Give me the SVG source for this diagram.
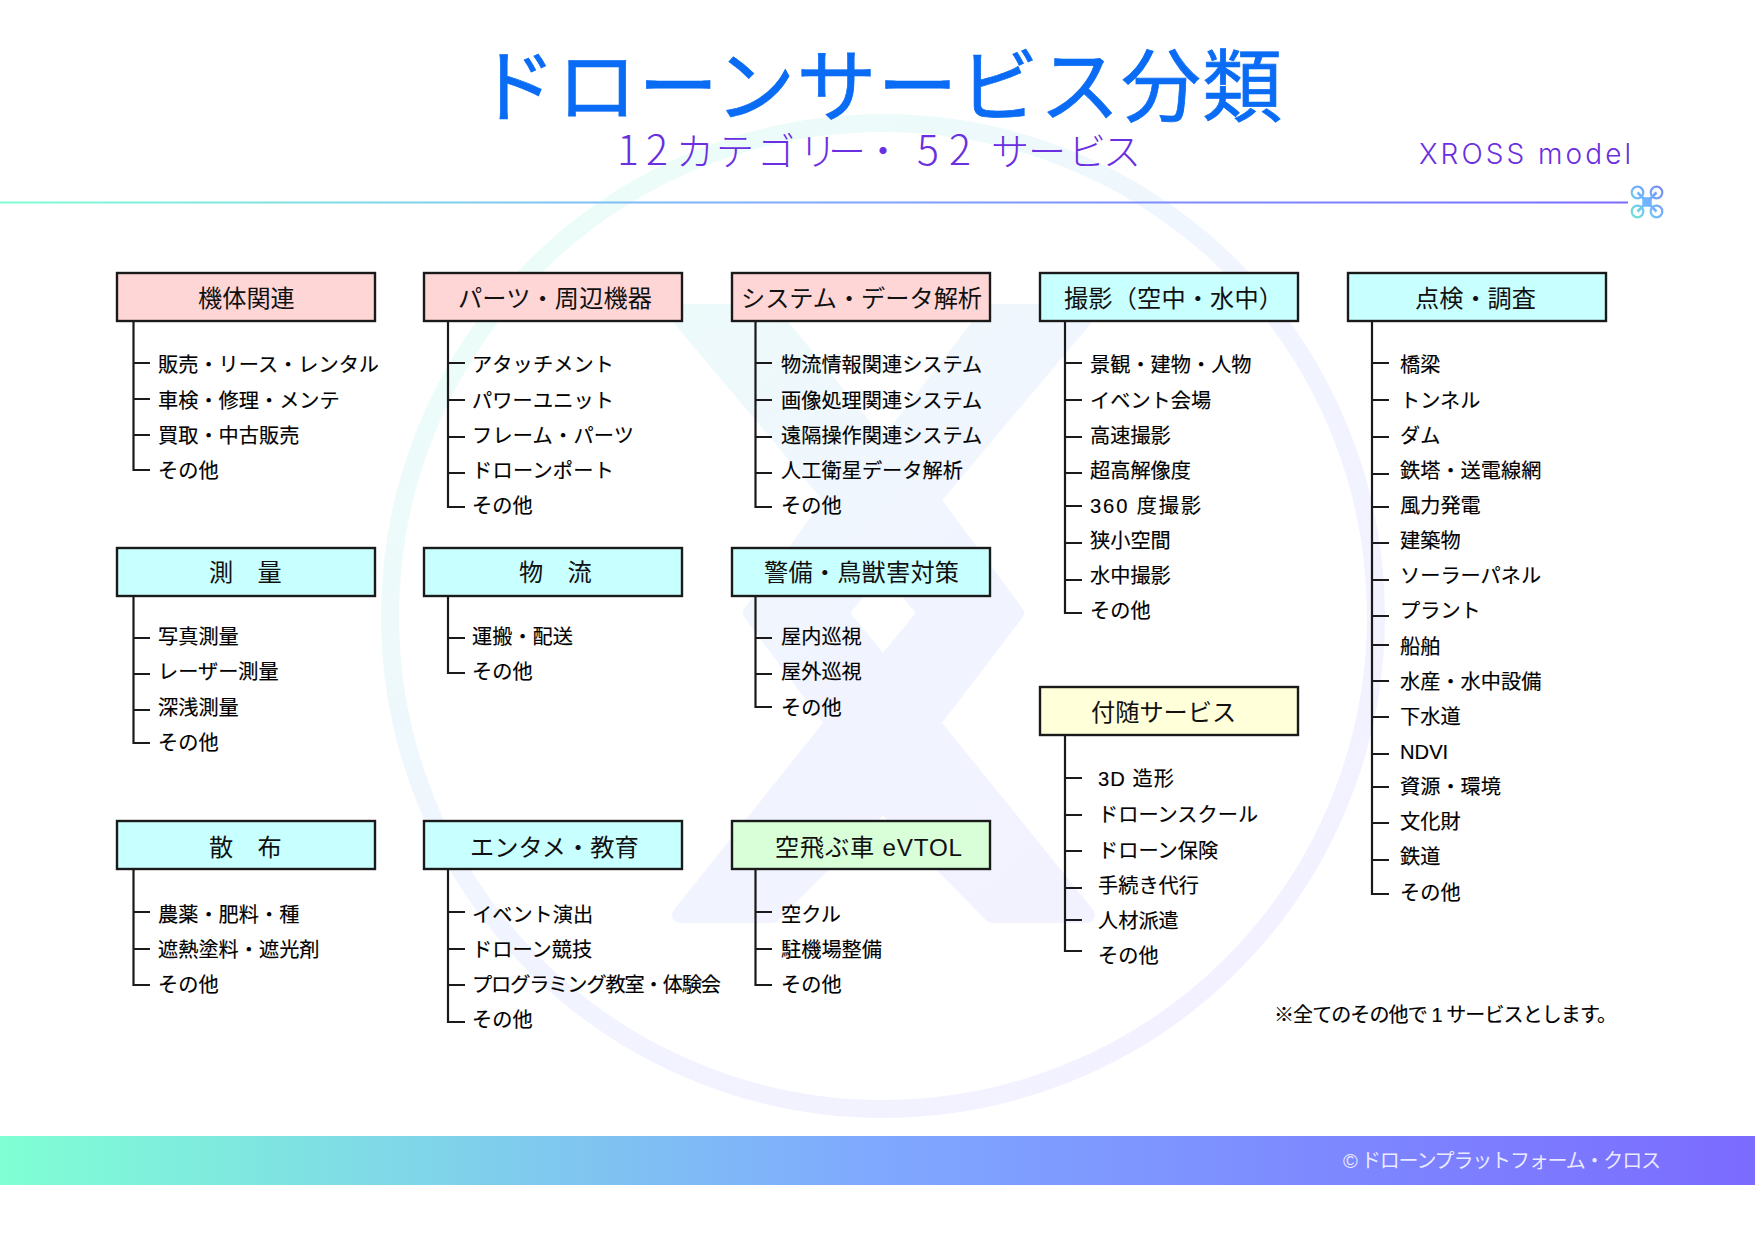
<svg xmlns="http://www.w3.org/2000/svg" width="1755" height="1241" viewBox="0 0 1755 1241">
<style>
text{font-family:"Liberation Sans","Noto Sans CJK JP","Noto Sans",sans-serif;fill:#000}
.h{font-size:24.2px;fill:#111}
.i{font-size:20.2px;stroke:#000;stroke-width:.15}
.box{stroke:#1a1a1a;stroke-width:2.4}
.pink{fill:#ffd6d6}.cyan{fill:#c8ffff}.green{fill:#d9ffd9}.yellow{fill:#ffffd9}
.con{fill:none;stroke:#1a1a1a;stroke-width:2.2}
.d{font-size:41px}
</style>
<defs>
<linearGradient id="wm" gradientUnits="userSpaceOnUse" x1="450" y1="150" x2="1200" y2="1050"><stop offset="0" stop-color="#eafff7"/><stop offset="0.55" stop-color="#f1f4ff"/><stop offset="1" stop-color="#f3f1ff"/></linearGradient>
<linearGradient id="rule" x1="0" x2="1" y1="0" y2="0"><stop offset="0" stop-color="#7fffd4"/><stop offset="0.5" stop-color="#7fa8ff"/><stop offset="1" stop-color="#7b6bff"/></linearGradient>
<linearGradient id="rule2" gradientUnits="userSpaceOnUse" x1="0" x2="1628" y1="0" y2="0"><stop offset="0" stop-color="#7fffd4"/><stop offset="0.5" stop-color="#7fa8ff"/><stop offset="1" stop-color="#7b6bff"/></linearGradient>
<linearGradient id="dr" gradientUnits="userSpaceOnUse" x1="1631" y1="218" x2="1663" y2="186"><stop offset="0" stop-color="#6fe8cf"/><stop offset="0.5" stop-color="#70b4ff"/><stop offset="1" stop-color="#7b8bf0"/></linearGradient>
</defs>
<rect width="1755" height="1241" fill="#fff"/>
<g id="watermark">
<circle cx="883" cy="616" r="493" fill="none" stroke="url(#wm)" stroke-width="18"/>
<path fill="url(#wm)" stroke="url(#wm)" stroke-width="16" stroke-linejoin="round" fill-rule="evenodd" d="M675 312H770L883 450L990 312H1090L932 500L1016 613L932 723L1087 915H992L883 804L772 915H680L833 723L751 613L833 500ZM883 561L840 613L883 665L926 613Z"/>
</g>
<g id="title">
<text x="476" y="115" style="font-size:80px;fill:#0a6cf5;stroke:#0a6cf5;stroke-width:.7" textLength="806">ドローンサービス分類</text>
<text y="165" style="font-size:38px;fill:#6a2fe0;font-weight:300;font-family:'Noto Sans CJK JP',sans-serif"><tspan class="d" x="617 646">12</tspan><tspan x="676 716 757 799 828 864">カテゴリー・</tspan><tspan class="d" x="917 949">52</tspan><tspan x="991 1028 1068 1103">サービス</tspan></text>
<text x="1419" y="164" style="font-size:28px;fill:#6a2fe0;font-weight:300;font-family:Inter,sans-serif" textLength="212">XROSS model</text>
</g>
<rect id="rule-line" x="0" y="201.5" width="1628" height="2" fill="url(#rule2)"/>
<g id="drone" fill="none" stroke="url(#dr)" stroke-width="2.2">
<circle cx="1637.5" cy="192.5" r="5.8"/><circle cx="1656.5" cy="192.5" r="5.8"/><circle cx="1637.5" cy="211.5" r="5.8"/><circle cx="1656.5" cy="211.5" r="5.8"/>
<path stroke-width="2.6" d="M1637.5 192.5L1656.5 211.5M1656.5 192.5L1637.5 211.5"/>
<rect x="1643" y="198" width="8" height="8" rx="1" fill="#70b4ff" stroke-width="1.5"/>
</g>
<g id="connectors" class="con">
<path d="M133.5 321V470H150M133.5 363H150M133.5 399H150M133.5 435H150"/>
<path d="M448 321V507H465M448 363H465M448 400H465M448 437H465M448 473H465"/>
<path d="M755.5 321V507H772M755.5 363H772M755.5 400H772M755.5 437H772M755.5 473H772"/>
<path d="M1065 321V613H1082M1065 363H1082M1065 400H1082M1065 437H1082M1065 473H1082M1065 506H1082M1065 543H1082M1065 580H1082"/>
<path d="M1372 321V894H1389M1372 363H1389M1372 400H1389M1372 437H1389M1372 474H1389M1372 507H1389M1372 543H1389M1372 580H1389M1372 616H1389M1372 645H1389M1372 681H1389M1372 717H1389M1372 754H1389M1372 787H1389M1372 823H1389M1372 860H1389"/>
<path d="M133.5 596V743H150M133.5 638H150M133.5 674H150M133.5 710H150"/>
<path d="M448 596V673H465M448 638H465"/>
<path d="M755.5 596V707H772M755.5 638H772M755.5 674H772"/>
<path d="M133.5 869V985H150M133.5 912H150M133.5 949H150"/>
<path d="M448 869V1022H465M448 912H465M448 949H465M448 985H465"/>
<path d="M755.5 869V985H772M755.5 912H772M755.5 949H772"/>
<path d="M1065 735V951H1082M1065 778H1082M1065 815H1082M1065 851H1082M1065 888H1082M1065 920H1082"/>
</g>
<g id="n-kitai"><rect class="box pink" x="117" y="273" width="258" height="48"/><text class="h" x="198" y="307">機体関連</text>
<text class="i" x="158" y="371.5">販売・リース・レンタル</text><text class="i" x="158" y="407.5">車検・修理・メンテ</text><text class="i" x="158" y="442.5">買取・中古販売</text><text class="i" x="158" y="477.5">その他</text></g>
<g id="n-parts"><rect class="box pink" x="424" y="273" width="258" height="48"/><text class="h" x="458" y="307" textLength="194">パーツ・周辺機器</text>
<text class="i" x="472" y="371.5" textLength="142">アタッチメント</text><text class="i" x="472" y="407.5" textLength="142">パワーユニット</text><text class="i" x="472" y="442.5" textLength="162">フレーム・パーツ</text><text class="i" x="472" y="477.5" textLength="142">ドローンポート</text><text class="i" x="472" y="512.5">その他</text></g>
<g id="n-system"><rect class="box pink" x="732" y="273" width="258" height="48"/><text class="h" x="741" y="307" textLength="241">システム・データ解析</text>
<text class="i" x="781" y="371.5">物流情報関連システム</text><text class="i" x="781" y="407.5">画像処理関連システム</text><text class="i" x="781" y="442.5">遠隔操作関連システム</text><text class="i" x="781" y="477.5" textLength="182">人工衛星データ解析</text><text class="i" x="781" y="512.5">その他</text></g>
<g id="n-satsuei"><rect class="box cyan" x="1040" y="273" width="258" height="48"/><text class="h" x="1064" y="307" textLength="219">撮影（空中・水中）</text>
<text class="i" x="1090" y="371.5">景観・建物・人物</text><text class="i" x="1090" y="407.5">イベント会場</text><text class="i" x="1090" y="442.5">高速撮影</text><text class="i" x="1090" y="477.5">超高解像度</text><text class="i" x="1090" y="512.5" textLength="111">360 度撮影</text><text class="i" x="1090" y="547.5">狭小空間</text><text class="i" x="1090" y="582.5">水中撮影</text><text class="i" x="1090" y="617.5">その他</text></g>
<g id="n-tenken"><rect class="box cyan" x="1348" y="273" width="258" height="48"/><text class="h" x="1415" y="307">点検・調査</text>
<text class="i" x="1400" y="371.5">橋梁</text><text class="i" x="1400" y="407.5">トンネル</text><text class="i" x="1400" y="442.5">ダム</text><text class="i" x="1400" y="477.5">鉄塔・送電線網</text><text class="i" x="1400" y="512.5">風力発電</text><text class="i" x="1400" y="547.5">建築物</text><text class="i" x="1400" y="582.5">ソーラーパネル</text><text class="i" x="1400" y="617.5">プラント</text><text class="i" x="1400" y="654">船舶</text><text class="i" x="1400" y="689">水産・水中設備</text><text class="i" x="1400" y="724">下水道</text><text class="i" x="1400" y="759">NDVI</text><text class="i" x="1400" y="794">資源・環境</text><text class="i" x="1400" y="829">文化財</text><text class="i" x="1400" y="864">鉄道</text><text class="i" x="1400" y="899.5">その他</text></g>
<g id="n-sokuryo"><rect class="box cyan" x="117" y="548" width="258" height="48"/><text class="h" x="209" y="581">測　量</text>
<text class="i" x="158" y="644">写真測量</text><text class="i" x="158" y="679">レーザー測量</text><text class="i" x="158" y="715">深浅測量</text><text class="i" x="158" y="749.5">その他</text></g>
<g id="n-butsuryu"><rect class="box cyan" x="424" y="548" width="258" height="48"/><text class="h" x="519" y="581">物　流</text>
<text class="i" x="472" y="644">運搬・配送</text><text class="i" x="472" y="679">その他</text></g>
<g id="n-keibi"><rect class="box cyan" x="732" y="548" width="258" height="48"/><text class="h" x="764" y="581" textLength="195">警備・鳥獣害対策</text>
<text class="i" x="781" y="644">屋内巡視</text><text class="i" x="781" y="679">屋外巡視</text><text class="i" x="781" y="715">その他</text></g>
<g id="n-fuzui"><rect class="box yellow" x="1040" y="687" width="258" height="48"/><text class="h" x="1091" y="721">付随サービス</text>
<text class="i" x="1098" y="786" textLength="76">3D 造形</text><text class="i" x="1098" y="822">ドローンスクール</text><text class="i" x="1098" y="858">ドローン保険</text><text class="i" x="1098" y="893">手続き代行</text><text class="i" x="1098" y="928">人材派遣</text><text class="i" x="1098" y="963">その他</text></g>
<g id="n-sanpu"><rect class="box cyan" x="117" y="821" width="258" height="48"/><text class="h" x="209" y="856">散　布</text>
<text class="i" x="158" y="922">農薬・肥料・種</text><text class="i" x="158" y="957">遮熱塗料・遮光剤</text><text class="i" x="158" y="992">その他</text></g>
<g id="n-entame"><rect class="box cyan" x="424" y="821" width="258" height="48"/><text class="h" x="470" y="856">エンタメ・教育</text>
<text class="i" x="472" y="922">イベント演出</text><text class="i" x="472" y="957">ドローン競技</text><text class="i" x="472" y="992" textLength="249">プログラミング教室・体験会</text><text class="i" x="472" y="1027">その他</text></g>
<g id="n-evtol"><rect class="box green" x="732" y="821" width="258" height="48"/><text class="h" x="775" y="856" textLength="187">空飛ぶ車 eVTOL</text>
<text class="i" x="781" y="922">空クル</text><text class="i" x="781" y="957">駐機場整備</text><text class="i" x="781" y="992">その他</text></g>
<text x="1274" y="1022" style="font-size:20px;stroke:#000;stroke-width:.15" textLength="343">※全てのその他で 1 サービスとします。</text>
<rect id="footer" x="0" y="1136" width="1755" height="49" fill="url(#rule)"/>
<text x="1343" y="1168" style="font-size:20px;fill:#fff;fill-opacity:.85" textLength="318">© ドローンプラットフォーム・クロス</text>
</svg>
